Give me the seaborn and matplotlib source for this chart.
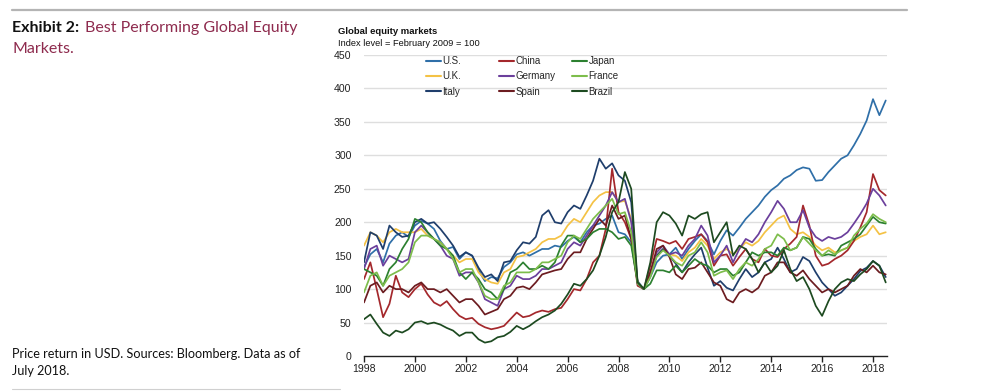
import numpy as np
import pandas as pd
import matplotlib
matplotlib.use("Agg")
import matplotlib.pyplot as plt
from matplotlib.lines import Line2D
import seaborn as sns

# ---------------- data (quarterly, index Feb 2009 = 100) ----------------
start_year = 1998.0
step = 0.25

us = [133,152,160,140, 168,180,185,178, 195,202,198,190, 172,160,163,145,
      155,150,128,112, 118,116,133,140, 152,155,150,155, 160,160,165,163,
      172,178,170,185, 195,198,205,210, 185,182,170,112, 100,118,140,150,
      152,162,145,160, 172,182,172,152, 172,188,180,192, 205,215,225,238,
      248,255,265,270, 278,282,280,262, 263,275,285,295, 300,315,332,352,
      384,360,382]
china = [115,140,100,58, 78,120,95,88, 100,108,92,80, 75,82,70,60,
         55,57,48,43, 40,42,45,55, 65,58,60,65, 68,66,70,72,
         85,100,98,115, 140,150,190,280, 215,200,175,105, 100,135,175,172,
         168,172,160,175, 178,182,170,135, 150,152,135,148, 160,145,140,160,
         150,148,160,168, 178,225,195,150, 135,138,145,150, 158,172,192,215,
         272,248,240]
japan = [130,125,120,105, 130,140,160,175, 205,200,185,175, 165,160,150,125,
         115,125,115,100, 95,85,100,125, 130,140,130,130, 135,130,140,165,
         180,180,170,175, 185,190,190,185, 175,178,165,110, 100,108,128,128,
         125,135,125,135, 145,138,135,125, 130,130,120,125, 140,155,150,155,
         155,150,162,158, 162,178,175,160, 150,152,150,165, 170,175,182,195,
         208,200,198]
uk = [165,185,180,170, 185,190,185,185, 185,190,180,175, 170,160,150,140,
      145,145,125,115, 110,108,125,130, 148,150,155,160, 170,175,175,180,
      195,205,200,215, 230,240,245,245, 230,232,205,110, 100,122,150,160,
      152,150,142,155, 162,175,165,145, 155,160,152,160, 170,165,172,185,
      195,205,210,190, 182,185,178,165, 158,162,155,158, 162,172,178,182,
      195,182,185]
germany = [130,160,165,135, 150,145,140,145, 185,195,185,175, 165,150,145,120,
           125,125,110,85, 80,75,100,105, 120,115,115,120, 130,130,135,140,
           160,170,165,180, 195,210,225,245, 230,235,200,108, 100,122,155,165,
           152,155,150,165, 175,195,180,140, 150,165,140,160, 175,170,182,200,
           215,232,220,200, 200,218,192,178, 172,178,175,178, 185,198,212,228,
           250,240,225]
france = [95,120,125,105, 120,125,130,140, 170,180,180,175, 170,160,145,125,
          130,130,110,90, 85,85,105,110, 125,125,125,130, 140,140,145,150,
          170,180,175,190, 205,215,225,235, 212,215,185,108, 100,118,148,158,
          150,140,135,150, 155,170,155,120, 125,128,115,130, 140,135,145,160,
          165,182,175,158, 162,178,168,158, 150,158,152,158, 162,180,190,198,
          212,205,200]
italy = [140,185,180,160, 195,185,178,180, 200,205,198,200, 190,178,165,148,
         155,150,132,118, 122,112,140,142, 158,170,168,178, 210,218,200,198,
         215,225,220,240, 262,295,280,288, 270,262,230,108, 100,125,150,160,
         150,138,125,140, 152,162,132,105, 112,102,98,115, 130,118,125,140,
         145,162,145,125, 130,148,142,125, 110,100,90,95, 105,115,127,132,
         142,135,118]
spain = [80,105,110,95, 105,100,100,95, 105,110,100,100, 95,100,90,80,
         85,85,75,62, 66,70,85,90, 102,104,100,110, 122,125,128,130,
         145,155,155,175, 190,205,195,225, 205,210,175,110, 100,125,160,165,
         148,122,115,130, 132,140,125,110, 105,85,80,95, 100,95,102,120,
         125,140,140,125, 120,128,115,105, 95,100,95,100, 105,120,130,125,
         135,125,122]
brazil = [55,62,48,35, 30,38,35,40, 50,52,48,50, 47,42,38,30,
          35,35,25,20, 22,28,30,36, 45,40,45,52, 58,62,68,78,
          92,108,105,115, 128,150,178,215, 230,275,250,110, 100,140,200,215,
          210,198,180,210, 205,212,215,170, 185,200,150,165, 160,145,125,140,
          125,135,158,130, 112,118,100,75, 60,82,100,110, 115,112,122,130,
          142,135,110]

markets = ["U.S.", "U.K.", "Italy", "China", "Germany", "Spain", "Japan", "France", "Brazil"]
series = [us, uk, italy, china, germany, spain, japan, france, brazil]
colors = ["#2f6fa8", "#f4c245", "#1f3e6c", "#a4282c", "#6b3f9c", "#6c1c20",
          "#2c8030", "#7dbd4b", "#1d4a20"]

y_ticks = [0, 50, 100, 150, 200, 250, 300, 350, 400, 450]
x_ticks = [1998, 2000, 2002, 2004, 2006, 2008, 2010, 2012, 2014, 2016, 2018]

rows = []
for name, vals in zip(markets, series):
    for i, v in enumerate(vals):
        rows.append((start_year + i * step, v, name))
df = pd.DataFrame(rows, columns=["year", "value", "market"])

# ---------------- figure ----------------
sns.set_theme(style="white")
plt.rcParams["font.family"] = ["Liberation Sans", "DejaVu Sans"]

W, H = 984, 391
fig = plt.figure(figsize=(W / 100, H / 100), dpi=100)
fig.patch.set_facecolor("white")

def fx(x):
    return x / W

def fy(y):
    return 1 - y / H

ax = fig.add_axes([fx(364), fy(356), (887 - 364) / W, (356 - 55) / H])
ax.set_facecolor("white")

for t in y_ticks[1:]:
    ax.axhline(t, color="#dedede", lw=1.0, zorder=0)

sns.lineplot(data=df, x="year", y="value", hue="market", hue_order=markets,
             palette=colors, linewidth=1.25, legend=False, errorbar=None,
             ax=ax)

ax.set_xlim(1998, 2018.55)
ax.set_ylim(0, 450)
ax.set_xticks(x_ticks)
ax.set_xticklabels([str(t) for t in x_ticks])
ax.set_yticks(y_ticks)
ax.set_yticklabels([str(t) for t in y_ticks])
ax.set_xlabel("")
ax.set_ylabel("")
for s in ["top", "right", "left"]:
    ax.spines[s].set_visible(False)
ax.spines["bottom"].set_color("#222222")
ax.spines["bottom"].set_linewidth(1.0)
ax.tick_params(axis="x", which="major", bottom=True, length=4, width=1,
               color="#222222", labelsize=7.6, pad=2, labelcolor="#222222")
ax.tick_params(axis="y", which="major", left=False, length=0,
               labelsize=7.6, pad=9, labelcolor="#222222")
ax.grid(False)

# legends: one per column
col_x = [426, 499, 572]
for c in range(3):
    handles = [Line2D([0], [0], color=colors[3 * c + r], lw=1.5) for r in range(3)]
    labels = markets[3 * c:3 * c + 3]
    fig.legend(handles, labels, loc="upper left",
               bbox_to_anchor=(fx(col_x[c]), fy(56)),
               frameon=False, fontsize=7, handlelength=1.5,
               handletextpad=0.2, labelspacing=0.55,
               borderpad=0, borderaxespad=0)

# chart titles
fig.text(fx(338), fy(34), "Global equity markets", fontsize=6.8, fontweight="bold",
         color="#111111", va="baseline", ha="left")
fig.text(fx(338), fy(45.5), "Index level = February 2009 = 100", fontsize=6.7,
         color="#111111", va="baseline", ha="left")

# left panel text
lfont = ["Lato", "DejaVu Sans"]
fig.text(fx(12), fy(32), "Exhibit 2:", fontsize=11.5, fontweight="bold",
         color="#111111", va="baseline", ha="left", family=lfont)
fig.text(fx(85), fy(32), "Best Performing Global Equity", fontsize=11.5,
         color="#8e2b4e", va="baseline", ha="left", family=lfont)
fig.text(fx(12), fy(53), "Markets.", fontsize=11.5,
         color="#8e2b4e", va="baseline", ha="left", family=lfont)
fig.text(fx(12), fy(358), "Price return in USD. Sources: Bloomberg. Data as of",
         fontsize=9.1, color="#111111", va="baseline", ha="left", family=lfont)
fig.text(fx(12), fy(375), "July 2018.",
         fontsize=9.1, color="#111111", va="baseline", ha="left", family=lfont)

# decorative rules
fig.add_artist(Line2D([fx(12), fx(907)], [fy(9.5), fy(9.5)], color="#b4b4b4", lw=1.6))
fig.add_artist(Line2D([fx(12), fx(340)], [fy(389), fy(389)], color="#d0d0d0", lw=0.8))

fig.savefig("out.png", dpi=100, facecolor="white")
